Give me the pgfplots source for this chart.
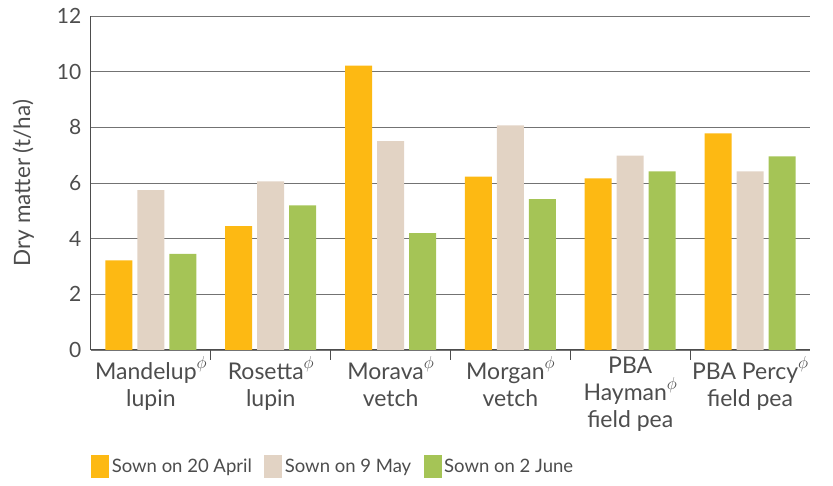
\documentclass[border=0pt]{standalone}
\usepackage{pgfplots}
\pgfplotsset{compat=1.18}
\usepackage{fontspec}
\setmainfont{Lato}
\definecolor{cApr}{HTML}{FDB913}
\definecolor{cMay}{HTML}{E2D3C4}
\definecolor{cJun}{HTML}{A5C456}
\definecolor{txt}{HTML}{4D4D4D}
\newcommand{\pbr}{\raisebox{0.45em}{\fontsize{17}{17}\selectfont$\phi$}}
\begin{document}
\begin{tikzpicture}[x=1pt,y=1pt]
\useasboundingbox (0,0) rectangle (833,486);
\begin{axis}[
  at={(91pt,136pt)}, anchor=south west,
  scale only axis, width=719pt, height=334pt,
  xmin=-0.5, xmax=5.5, ymin=0, ymax=12,
  ytick={0,2,...,12},
  ymajorgrids, grid style={black!55, line width=0.8pt},
  axis x line*=bottom, axis y line*=left,
  axis line style={txt, line width=1pt, -},
  /pgf/number format/assume math mode=true,
  tick label style={font=\fontsize{21}{27}\selectfont, text=txt},
  ylabel={Dry matter (t/ha)},
  ylabel style={font=\fontsize{22.5}{27}\selectfont, text=txt, at={(axis description cs:-0.094,0.5)}, anchor=center},
  major y tick style={draw=none},
  yticklabel style={xshift=-2pt},
  xtick={0,...,5},
  xticklabels={Mandelup\pbr\\lupin, Rosetta\pbr\\lupin, Morava\pbr\\vetch, Morgan\pbr\\vetch, PBA\\Hayman\pbr\\field pea, PBA Percy\pbr\\field pea},
  xticklabel style={align=center, yshift=1pt, font=\fontsize{23}{27}\selectfont},
  major x tick style={draw=none},
  minor xtick={0.5,1.5,...,4.5},
  minor x tick style={txt, line width=1pt},
  minor tick length=10pt,
  tick align=outside,
  xtick pos=bottom, ytick pos=left,
  ybar=5pt, bar width=27pt,
  legend style={at={(axis description cs:-0.004,-0.35)}, anchor=west, draw=none, fill=none,
     legend columns=3, font=\fontsize{18.5}{22}\selectfont, text=txt,
     /tikz/every even column/.append style={column sep=10pt},
     nodes={inner sep=2.5pt}},
  legend image code/.code={\fill[#1,draw=none] (0pt,-11.5pt) rectangle (18pt,11.5pt);},
]
\addplot[fill=cApr, draw=none] coordinates {(0,3.22) (1,4.45) (2,10.22) (3,6.23) (4,6.17) (5,7.78)};
\addplot[fill=cMay, draw=none] coordinates {(0,5.74) (1,6.06) (2,7.5) (3,8.07) (4,6.98) (5,6.42)};
\addplot[fill=cJun, draw=none] coordinates {(0,3.45) (1,5.2) (2,4.2) (3,5.42) (4,6.42) (5,6.96)};
\legend{Sown on 20 April, Sown on 9 May, Sown on 2 June}
\end{axis}
\end{tikzpicture}
\end{document}
